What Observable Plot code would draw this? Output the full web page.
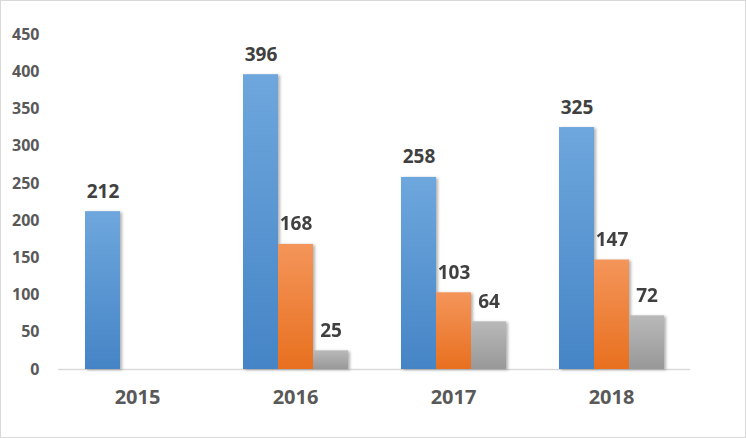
<!DOCTYPE html>
<html>
<head>
<meta charset="utf-8">
<script src="https://cdn.jsdelivr.net/npm/d3@7"></script>
<script src="https://cdn.jsdelivr.net/npm/@observablehq/plot@0.6"></script>
<style>
  html, body { margin: 0; padding: 0; background: #fff; }
  svg { display: block; outline: 1px solid #d9d9d9; outline-offset: -1px; }
</style>
</head>
<body>
<div id="chart"></div>
<script>
const years = ["2015", "2016", "2017", "2018"];
const series = ["Series1", "Series2", "Series3"];
const series1 = [212, 396, 258, 325];
const series2 = [null, 168, 103, 147];
const series3 = [null, 25, 64, 72];
const yTicks = [0, 50, 100, 150, 200, 250, 300, 350, 400, 450];
const gradTop = ["#6ea7dd", "#f4955a", "#b9b9b9"];
const gradBottom = ["#4584c6", "#e8701f", "#989898"];

const cols = [series1, series2, series3];
const data = years.flatMap((year, i) =>
  series.map((s, j) => ({year, series: s, value: cols[j][i]}))
).filter(d => d.value != null);

const chart = Plot.plot({
  width: 746,
  height: 438,
  marginLeft: 57,
  marginRight: 55,
  marginTop: 34,
  marginBottom: 69,
  style: {fontFamily: "'Open Sans', sans-serif", background: "#fff"},
  fx: {domain: years, padding: 0, label: null},
  x: {domain: series, paddingInner: 0, paddingOuter: 0.73, axis: null},
  y: {domain: [0, 450], label: null},
  color: {domain: series, range: series.map((s, i) => `url(#grad${i})`)},
  marks: [
    Plot.axisY({ticks: yTicks, tickSize: 0, tickPadding: 19, fontSize: 16, fontWeight: "bold", color: "#595959", label: null}),
    Plot.axisFx({anchor: "bottom", tickSize: 0, tickPadding: 20, fontSize: 20, fontWeight: "bold", color: "#595959", label: null}),
    Plot.ruleY([0], {stroke: "#d9d9d9", strokeWidth: 1.5}),
    Plot.barY(data, {fx: "year", x: "series", y: "value", fill: "series"}),
    Plot.text(data, {fx: "year", x: "series", y: "value", text: d => String(d.value),
      lineAnchor: "bottom", dy: -14, fontSize: 19, fontWeight: "bold", fill: "#404040"})
  ]
});

const svg = d3.select(chart);
const defs = svg.insert("defs", ":first-child");
series.forEach((s, i) => {
  const g = defs.append("linearGradient").attr("id", `grad${i}`)
    .attr("x1", 0).attr("y1", 0).attr("x2", 0).attr("y2", 1);
  g.append("stop").attr("offset", "0%").attr("stop-color", gradTop[i]);
  g.append("stop").attr("offset", "100%").attr("stop-color", gradBottom[i]);
});
svg.selectAll("g[aria-label=bar]").style("filter", "drop-shadow(2px 1px 1.5px rgba(0,0,0,0.3))");

document.getElementById("chart").append(chart);
</script>
</body>
</html>
